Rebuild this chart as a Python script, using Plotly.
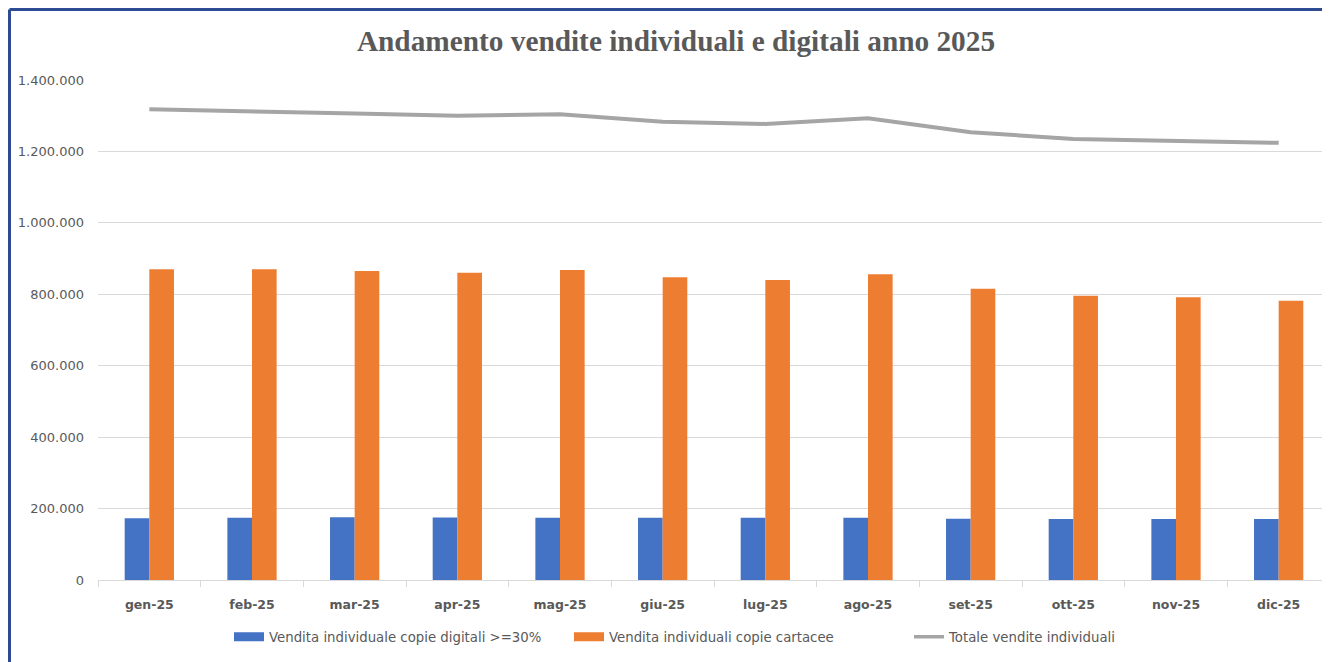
import plotly.graph_objects as go

months = ["gen-25", "feb-25", "mar-25", "apr-25", "mag-25", "giu-25",
          "lug-25", "ago-25", "set-25", "ott-25", "nov-25", "dic-25"]
digitali = [173000, 174500, 175500, 175000, 174500, 174500,
            174000, 174000, 171500, 171000, 171000, 171000]
cartacee = [870000, 870000, 865000, 860000, 868000, 847500,
            840000, 856000, 815500, 796000, 791500, 782000]
totale = [1318000, 1313000, 1306000, 1300000, 1304000, 1283000,
          1277000, 1293000, 1254000, 1235000, 1230000, 1224000]
y_ticks = [0, 200000, 400000, 600000, 800000, 1000000, 1200000, 1400000]

names = ["Vendita individuale copie digitali >=30%",
         "Vendita individuali copie cartacee",
         "Totale vendite individuali"]
colors = ["#4472C4", "#ED7D31", "#A5A5A5"]

OFF = 8  # page body margin
W, H = 1330 - OFF, 662 - OFF
L, R, T, B = 98 - OFF, 0, 80 - OFF, 662 - 580
pw, ph = W - L - R, H - T - B

fig = go.Figure()
fig.add_trace(go.Bar(x=months, y=digitali, name=names[0], showlegend=False,
                     marker=dict(color=colors[0], line=dict(width=0))))
fig.add_trace(go.Bar(x=months, y=cartacee, name=names[1], showlegend=False,
                     marker=dict(color=colors[1], line=dict(width=0))))
fig.add_trace(go.Scatter(x=months, y=totale, name=names[2], mode="lines", showlegend=False,
                         line=dict(color=colors[2], width=4)))
# legend entries styled like the Excel swatches
for nm, col, w in zip(names, colors, [9, 9, 3.5]):
    fig.add_trace(go.Scatter(x=[None], y=[None], name=nm, mode="lines",
                             line=dict(color=col, width=w), hoverinfo="skip"))

# frame border (top and left edges visible in the reference)
bx = (1.5 - L) / pw
by = 1 + (T - 1.5) / ph
fig.add_shape(type="line", xref="paper", yref="paper", x0=bx, x1=bx, y0=-1, y1=by,
              line=dict(color="#2E4A93", width=3), layer="above")
fig.add_shape(type="line", xref="paper", yref="paper", x0=bx, x1=1.5, y0=by, y1=by,
              line=dict(color="#2E4A93", width=3), layer="above")

fig.update_layout(
    width=W, height=H,
    margin=dict(l=L, r=R, t=T, b=B, autoexpand=False),
    paper_bgcolor="white", plot_bgcolor="white",
    separators=",.",
    barmode="group", bargap=0.52, bargroupgap=0,
    title=dict(text="<b>Andamento vendite individuali e digitali anno 2025</b>",
               x=(676 - OFF) / W, xanchor="center", xref="container",
               y=1 - (41 - OFF) / H, yanchor="middle",
               font=dict(family="Liberation Serif", size=29.3, color="#595959")),
    font=dict(family="DejaVu Sans", color="#595959"),
    showlegend=True,
    legend=dict(orientation="h", x=(229 - OFF - L) / pw, xanchor="left",
                y=-(637 - 580) / ph, yanchor="middle",
                font=dict(family="DejaVu Sans", size=13.3, color="#595959"),
                entrywidth=295, entrywidthmode="pixels",
                traceorder="normal", bgcolor="rgba(0,0,0,0)"),
    xaxis=dict(type="category", showgrid=False, showline=True, linecolor="#D9D9D9", linewidth=1,
               ticks="outside", tickson="boundaries", ticklen=6, tickcolor="#D9D9D9",
               ticklabelstandoff=13,
               tickfont=dict(family="DejaVu Sans", size=12.5, color="#595959", weight="bold")),
    yaxis=dict(range=[0, 1400000], tickvals=y_ticks, tickformat=",d",
               showgrid=True, gridcolor="#D9D9D9", gridwidth=1, zeroline=False,
               showline=False, ticks="", ticklabelstandoff=13,
               tickfont=dict(family="DejaVu Sans", size=13, color="#595959")),
)

fig.write_html("out.html")
